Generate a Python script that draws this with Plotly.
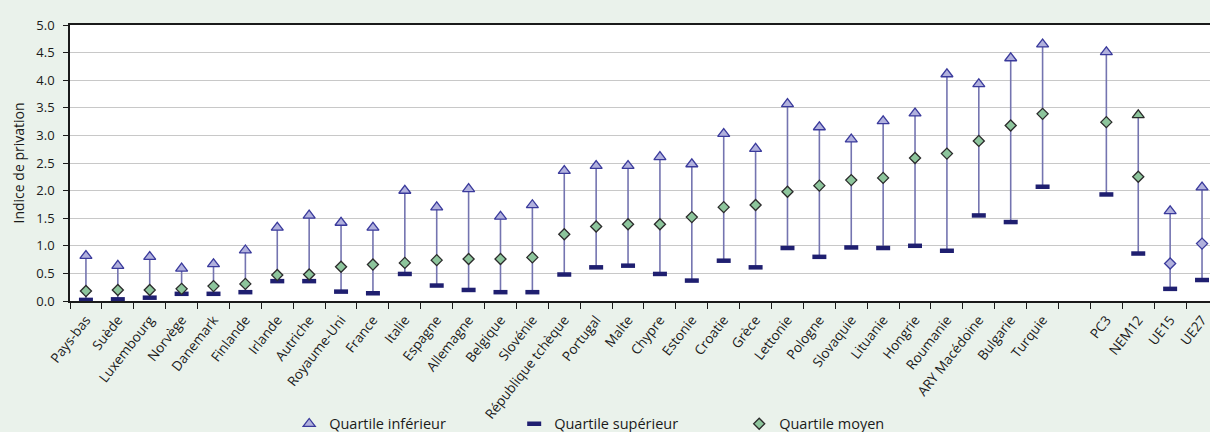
import plotly.graph_objects as go

categories = ["Pays-bas", "Suède", "Luxembourg", "Norvège", "Danemark", "Finlande",
              "Irlande", "Autriche", "Royaume-Uni", "France", "Italie", "Espagne",
              "Allemagne", "Belgique", "Slovénie", "République tchèque", "Portugal",
              "Malte", "Chypre", "Estonie", "Croatie", "Grèce", "Lettonie", "Pologne",
              "Slovaquie", "Lituanie", "Hongrie", "Roumanie", "ARY Macédoine",
              "Bulgarie", "Turquie", " ", "PC3", "NEM12", "UE15", "UE27"]

q_inferieur = [0.82, 0.64, 0.80, 0.59, 0.67, 0.92, 1.33, 1.55, 1.42, 1.33, 2.00, 1.70,
               2.03, 1.53, 1.74, 2.36, 2.45, 2.45, 2.61, 2.48, 3.03, 2.76, 3.57, 3.15,
               2.93, 3.26, 3.40, 4.11, 3.93, 4.40, 4.65, None, 4.51, 3.37, 1.63, 2.06]

q_superieur = [0.02, 0.03, 0.06, 0.13, 0.13, 0.16, 0.36, 0.36, 0.17, 0.14, 0.49, 0.28,
               0.20, 0.16, 0.16, 0.48, 0.61, 0.64, 0.49, 0.37, 0.73, 0.61, 0.96, 0.80,
               0.97, 0.96, 1.00, 0.91, 1.55, 1.43, 2.07, None, 1.93, 0.86, 0.22, 0.38]

q_moyen = [0.18, 0.20, 0.20, 0.22, 0.27, 0.31, 0.47, 0.48, 0.62, 0.66, 0.69, 0.74,
           0.76, 0.76, 0.79, 1.21, 1.35, 1.39, 1.39, 1.52, 1.70, 1.74, 1.98, 2.09,
           2.19, 2.23, 2.59, 2.67, 2.90, 3.18, 3.39, None, 3.24, 2.25, 0.68, 1.04]

TRI_FILL = "#B1B1DD"
TRI_LINE = "#3A3A9C"
DIA_FILL = "#8DC59C"
DIA_LINE = "#2B2B2B"
DASH_COL = "#1F1F70"
STEM_COL = "#7474B0"
BG = "#EAF2EB"
FONT = "Open Sans"

# stems from upper quartile to lower quartile
sx, sy = [], []
for c, lo, hi in zip(categories, q_superieur, q_inferieur):
    if lo is None or hi is None:
        continue
    sx += [c, c, None]
    sy += [lo, hi, None]

# per-point marker fills (NEM12 triangle green, UE15/UE27 diamonds lavender)
tri_fill = [DIA_FILL if c == "NEM12" else TRI_FILL for c in categories]
tri_line = [DIA_LINE if c == "NEM12" else TRI_LINE for c in categories]
dia_fill = [TRI_FILL if c in ("UE15", "UE27") else DIA_FILL for c in categories]
dia_line = [TRI_LINE if c in ("UE15", "UE27") else DIA_LINE for c in categories]

fig = go.Figure()
fig.add_trace(go.Scatter(x=sx, y=sy, mode="lines", line=dict(color=STEM_COL, width=1.6),
                         showlegend=False, hoverinfo="skip", cliponaxis=False))
fig.add_trace(go.Scatter(x=categories, y=q_superieur, mode="markers", name="Quartile supérieur",
                         legendrank=2, cliponaxis=False,
                         marker=dict(symbol="line-ew", size=10,
                                     line=dict(color=DASH_COL, width=4.5))))
fig.add_trace(go.Scatter(x=categories, y=q_inferieur, mode="markers", name="Quartile inférieur",
                         legendrank=1, cliponaxis=False,
                         marker=dict(symbol="triangle-up", size=10.5, color=tri_fill,
                                     line=dict(color=tri_line, width=1.3))))
fig.add_trace(go.Scatter(x=categories, y=q_moyen, mode="markers", name="Quartile moyen",
                         legendrank=3, cliponaxis=False,
                         marker=dict(symbol="diamond", size=8.5, color=dia_fill,
                                     line=dict(color=dia_line, width=1.3))))

fig.update_layout(
    width=1210, height=432,
    margin=dict(l=70, r=0, t=25, b=131, autoexpand=False),
    paper_bgcolor=BG,
    plot_bgcolor="#FFFFFF",
    font=dict(family=FONT, size=13, color="#1A1A1A"),
    showlegend=True,
    legend=dict(orientation="h", xref="container", yref="container",
                x=0.239, xanchor="left", y=0.019, yanchor="middle",
                bgcolor="rgba(0,0,0,0)", font=dict(size=14.5), entrywidth=180,
                itemsizing="trace"),
    xaxis=dict(type="category", categoryorder="array", categoryarray=categories,
               range=[-0.5, 35.25], tickangle=-52, showgrid=False, automargin=False,
               showline=True, linecolor="#1A1A1A", linewidth=1.5, mirror=True,
               ticks="outside", ticklen=6, tickcolor="#1A1A1A", tickson="boundaries",
               ticklabelstandoff=4, tickfont=dict(size=13.5)),
    yaxis=dict(range=[0, 5], dtick=0.5, tickformat=".1f", showgrid=True, automargin=False,
               gridcolor="#C8C8C8", gridwidth=1.3, zeroline=False,
               showline=True, linecolor="#1A1A1A", linewidth=1.5,
               ticks="outside", ticklen=5, tickcolor="#1A1A1A", ticklabelstandoff=6,
               title=dict(text="Indice de privation", font=dict(size=14), standoff=8),
               tickfont=dict(size=13)),
)

fig.write_html("out.html", config={"displayModeBar": False},
               post_script="document.body.style.margin='0';"
                           "document.body.style.background='" + BG + "';")
